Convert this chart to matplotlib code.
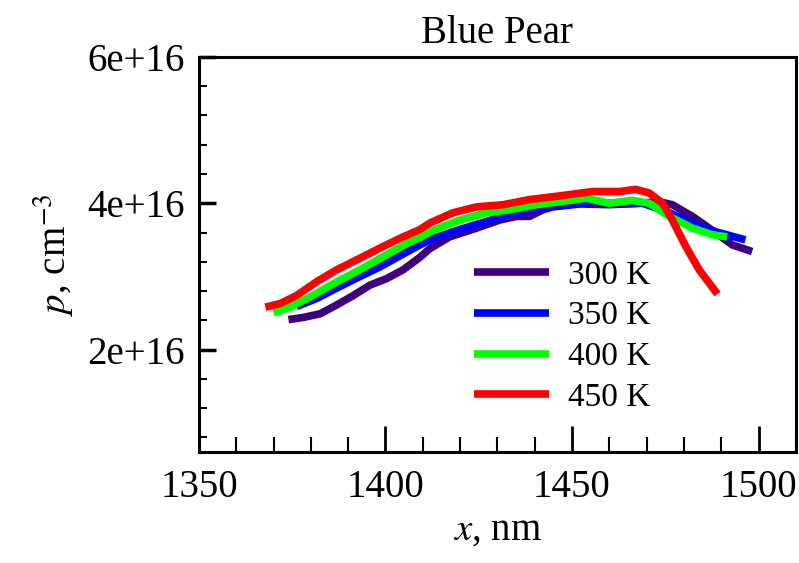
import matplotlib
matplotlib.use("Agg")
import matplotlib.pyplot as plt
from matplotlib.ticker import MultipleLocator
import numpy as np

plt.rcParams['font.family'] = ['Liberation Serif', 'DejaVu Serif']
plt.rcParams['mathtext.fontset'] = 'stix'

# wavelength (nm) and hole concentration (1e16 cm^-3) at each temperature
x_300 = [1374.0, 1378.0, 1382.5, 1386.9, 1391.4, 1395.8, 1400.3, 1404.7, 1409.2, 1411.9,
         1417.2, 1424.4, 1430.6, 1435.1, 1438.6, 1442.2, 1444.8, 1452.0, 1460.0, 1468.0,
         1473.4, 1476.9, 1482.3, 1487.6, 1493.0, 1498.3]
p_300 = [2.41, 2.44, 2.49, 2.61, 2.74, 2.88, 2.97, 3.09, 3.26, 3.38,
         3.54, 3.66, 3.77, 3.82, 3.82, 3.91, 3.95, 3.99, 3.98, 4.00,
         4.02, 3.98, 3.82, 3.63, 3.43, 3.34]

x_350 = [1376.2, 1381.6, 1386.9, 1393.2, 1398.5, 1403.8, 1409.2, 1412.8, 1419.9, 1427.0,
         1433.2, 1440.4, 1449.3, 1455.5, 1462.7, 1468.9, 1475.2, 1482.3, 1488.5, 1496.5]
p_350 = [2.59, 2.70, 2.84, 3.00, 3.13, 3.28, 3.43, 3.52, 3.64, 3.75,
         3.85, 3.93, 3.98, 4.02, 3.99, 4.00, 3.89, 3.73, 3.61, 3.50]

x_400 = [1370.0, 1374.4, 1379.8, 1386.0, 1393.1, 1399.4, 1405.6, 1409.2, 1412.8, 1419.9,
         1427.0, 1433.2, 1440.4, 1446.6, 1453.8, 1460.0, 1466.2, 1470.7, 1476.1, 1482.3,
         1487.6, 1491.6]
p_400 = [2.50, 2.58, 2.72, 2.90, 3.09, 3.27, 3.45, 3.53, 3.63, 3.77,
         3.87, 3.91, 3.98, 4.02, 4.07, 4.00, 4.04, 4.00, 3.82, 3.66,
         3.57, 3.54]

x_450 = [1367.8, 1371.8, 1376.2, 1381.6, 1386.9, 1393.2, 1399.4, 1404.7, 1409.2, 1411.9,
         1418.1, 1424.4, 1431.5, 1438.6, 1446.6, 1455.5, 1462.7, 1467.1, 1470.7, 1474.3,
         1476.9, 1480.5, 1484.1, 1489.0]
p_450 = [2.58, 2.63, 2.74, 2.93, 3.09, 3.25, 3.41, 3.54, 3.64, 3.73,
         3.87, 3.95, 3.98, 4.05, 4.10, 4.16, 4.16, 4.19, 4.14, 4.00,
         3.77, 3.41, 3.09, 2.76]

series = [(x_300, p_300, '#3f0080', '300 K'),
          (x_350, p_350, '#0000ff', '350 K'),
          (x_400, p_400, '#00ff00', '400 K'),
          (x_450, p_450, '#ff0000', '450 K')]

fig = plt.figure(figsize=(7.99, 5.63), dpi=100)
ax = fig.add_axes([0.249, 0.197, 0.747, 0.702])

for xs, ps, c, lab in series:
    ax.plot(xs, np.array(ps) * 1e16, color=c, lw=5.5, label=lab,
            solid_capstyle='butt', solid_joinstyle='round')

ax.set_xlim(1350, 1510)
ax.set_ylim(0.6e16, 6e16)
ax.set_xticks([1350, 1400, 1450, 1500])
ax.set_yticks([2e16, 4e16, 6e16])
ax.set_yticklabels(['2e+16', '4e+16', '6e+16'])
ax.xaxis.set_minor_locator(MultipleLocator(10))
ax.yaxis.set_minor_locator(MultipleLocator(0.4e16))

ax.tick_params(axis='both', which='both', direction='in', top=False, right=False,
               labelsize=28)
ax.tick_params(axis='x', which='major', length=19, width=2, pad=12)
ax.tick_params(axis='x', which='minor', length=11, width=1.5)
ax.tick_params(axis='y', which='major', length=12, width=2.5, pad=10)
ax.tick_params(axis='y', which='minor', length=6, width=1.5)
for s in ax.spines.values():
    s.set_linewidth(2.2)

ax.set_title('Blue Pear', fontsize=28, pad=10)
ax.set_xlabel(r'$x$, nm', fontsize=28, labelpad=4)
ax.set_ylabel(r'$p$, cm$^{-3}$', fontsize=28, labelpad=8)

ax.legend(loc='upper left', bbox_to_anchor=(0.593, 0.538), bbox_transform=fig.transFigure,
          frameon=False, fontsize=24, handlelength=2.25, handletextpad=0.57,
          labelspacing=0.31, borderpad=0, borderaxespad=0)

fig.savefig('out.png', dpi=100)
